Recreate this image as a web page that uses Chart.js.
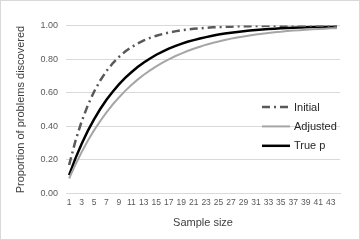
<!DOCTYPE html>
<html>
<head>
<meta charset="utf-8">
<script src="https://cdn.jsdelivr.net/npm/chart.js@4"></script>
<style>
  html, body { margin: 0; padding: 0; background: #fff; }
  #wrap { position: relative; width: 360px; height: 240px; }
  #frame { position: absolute; left: 0; top: 0; width: 358px; height: 238px; border: 1px solid #d9d9d9; pointer-events: none; }
</style>
</head>
<body>
<div id="wrap">
  <canvas id="chart" width="360" height="240"></canvas>
  <div id="frame"></div>
</div>
<script>
const sampleSizes = [1,2,3,4,5,6,7,8,9,10,11,12,13,14,15,16,17,18,19,20,21,22,
  23,24,25,26,27,28,29,30,31,32,33,34,35,36,37,38,39,40,41,42,43,44];

const initial = [0.17,0.311,0.428,0.525,0.606,0.673,0.729,0.775,0.813,0.845,0.871,
  0.893,0.911,0.926,0.939,0.949,0.958,0.965,0.971,0.976,0.980,0.983,0.986,0.989,
  0.991,0.992,0.993,0.995,0.996,0.996,0.997,0.997,0.998,0.998,0.999,0.999,0.999,
  0.999,0.999,0.999,0.999,0.999,0.999,0.999];

const adjusted = [0.09,0.172,0.246,0.314,0.376,0.432,0.483,0.530,0.572,0.611,0.646,
  0.678,0.707,0.733,0.757,0.779,0.799,0.817,0.833,0.848,0.862,0.874,0.886,0.896,
  0.905,0.914,0.922,0.929,0.935,0.941,0.946,0.951,0.956,0.960,0.963,0.967,0.970,
  0.972,0.975,0.977,0.979,0.981,0.983,0.984];

const trueP = [0.11,0.208,0.295,0.373,0.442,0.503,0.558,0.606,0.650,0.688,0.722,
  0.753,0.780,0.804,0.826,0.845,0.862,0.877,0.891,0.903,0.913,0.923,0.931,0.939,
  0.946,0.952,0.957,0.962,0.966,0.970,0.973,0.976,0.979,0.981,0.983,0.985,0.987,
  0.988,0.989,0.991,0.992,0.993,0.993,0.994];

const yTicks = [0, 0.2, 0.4, 0.6, 0.8, 1.0];

const font = "'Liberation Sans', Arial, sans-serif";

// legend drawn inside the plot, right side
const insideLegend = {
  id: 'insideLegend',
  afterDraw(chart) {
    const ctx = chart.ctx;
    const x0 = chart.chartArea.right - 78;
    let y = 107;
    ctx.save();
    chart.data.datasets.forEach(ds => {
      ctx.beginPath();
      ctx.strokeStyle = ds.borderColor;
      ctx.lineWidth = ds.borderWidth;
      ctx.setLineDash(ds.borderDash || []);
      ctx.moveTo(x0, y);
      ctx.lineTo(x0 + 28, y);
      ctx.stroke();
      ctx.setLineDash([]);
      ctx.fillStyle = '#262626';
      ctx.font = '11px ' + font;
      ctx.textBaseline = 'middle';
      ctx.fillText(ds.label, x0 + 32, y + 0.5);
      y += 19.4;
    });
    ctx.restore();
  }
};

new Chart(document.getElementById('chart').getContext('2d'), {
  type: 'line',
  data: {
    labels: sampleSizes,
    datasets: [
      { label: 'Initial', data: initial, borderColor: '#595959', borderWidth: 2.5,
        borderDash: [8, 4, 2, 4], pointRadius: 0, tension: 0, fill: false },
      { label: 'Adjusted', data: adjusted, borderColor: '#a6a6a6', borderWidth: 2,
        pointRadius: 0, tension: 0, fill: false },
      { label: 'True p', data: trueP, borderColor: '#000000', borderWidth: 2.5,
        pointRadius: 0, tension: 0, fill: false }
    ]
  },
  options: {
    responsive: false,
    animation: false,
    layout: { padding: { left: 14, right: 20, top: 25.5, bottom: 10.5 } },
    plugins: { legend: { display: false }, tooltip: { enabled: false } },
    scales: {
      x: {
        offset: true,
        grid: { display: false, drawTicks: false },
        border: { color: '#d9d9d9' },
        ticks: {
          autoSkip: false, maxRotation: 0, padding: 4,
          color: '#595959', font: { family: font, size: 8.5 },
          callback: function(v, i) { return i % 2 === 0 ? this.getLabelForValue(v) : ''; }
        },
        title: { display: true, text: 'Sample size', color: '#404040',
          font: { family: font, size: 11 }, padding: { top: 4.5, bottom: 0 } }
      },
      y: {
        min: 0, max: 1,
        afterBuildTicks: s => { s.ticks = yTicks.map(v => ({ value: v })); },
        afterFit: s => { s.width = 52; },
        grid: { color: '#d9d9d9', drawTicks: false },
        border: { display: false },
        ticks: { padding: 8, color: '#595959', font: { family: font, size: 9 },
          callback: v => v.toFixed(2) },
        title: { display: true, text: 'Proportion of problems discovered', color: '#404040',
          font: { family: font, size: 11 }, padding: 0 }
      }
    }
  },
  plugins: [insideLegend]
});
</script>
</body>
</html>
